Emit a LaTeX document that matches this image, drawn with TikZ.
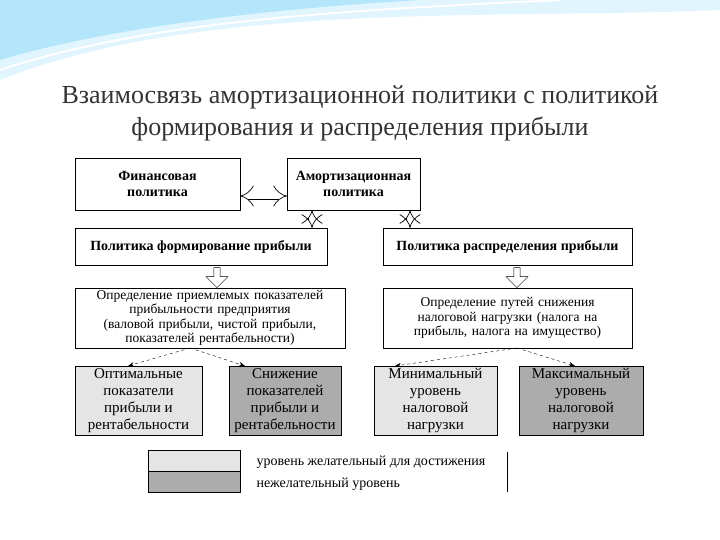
\documentclass[tikz,border=0pt]{standalone}
\usepackage{fontspec}
\setmainfont{Liberation Serif}
\usetikzlibrary{arrows.meta,shapes.arrows}
\begin{document}
\begin{tikzpicture}[x=1pt,y=-1pt,
 bx/.style={draw,thick,inner sep=0pt,align=center,font=\fontsize{13.5}{14.5}\selectfont},
 bb/.style={bx,font=\fontsize{14}{16}\selectfont\bfseries},
 bt/.style={bx,font=\fontsize{15}{17}\selectfont},
 lt/.style={fill=gray!20},
 dk/.style={fill=gray!65},
 dbl/.style={double distance=7pt,line width=0.7pt},
 dsh/.style={dashed,-{Stealth[length=6pt]}}]
\useasboundingbox (0,0) rectangle (720,540);
\fill[cyan!12] (0,0) -- (720,0) -- (720,10) .. controls (500,20) and (200,0) .. (0,80) -- cycle;
\fill[cyan!30] (0,0) -- (420,0) .. controls (250,10) and (100,30) .. (0,60) -- cycle;
\draw[white,line width=2pt] (0,70) .. controls (150,20) and (350,10) .. (560,0);
\node[font=\fontsize{26}{32}\selectfont,text=black!80,align=center] (title) at (360,113) {Взаимосвязь амортизационной политики с политикой\\формирования и распределения прибыли};
\node[bb,minimum width=165,minimum height=52] (fin) at (157.5,184) {Финансовая\\политика};
\node[bb,minimum width=133,minimum height=52] (am) at (353.5,184) {Амортизационная\\политика};
\node[bb,minimum width=252,minimum height=37] (pf) at (201,246.5) {Политика формирование прибыли};
\node[bb,minimum width=249,minimum height=37] (pr) at (507.5,246.5) {Политика распределения прибыли};
\node[bx,minimum width=270,minimum height=60,text width=250] (of) at (210,318) {Определение приемлемых показателей прибыльности предприятия (валовой прибыли, чистой прибыли, показателей рентабельности)};
\node[bx,minimum width=249,minimum height=60,text width=235] (or) at (507.5,318) {Определение путей снижения налоговой нагрузки (налога на прибыль, налога на имущество)\\[8pt]};
\node[bt,lt,minimum width=127,minimum height=69] (b1) at (138.5,400.5) {Оптимальные\\показатели\\прибыли и\\рентабельности};
\node[bt,dk,minimum width=112,minimum height=69] (b2) at (285,400.5) {Снижение\\показателей\\прибыли и\\рентабельности};
\node[bt,lt,minimum width=123,minimum height=69] (b3) at (435.5,400.5) {Минимальный\\уровень\\налоговой\\нагрузки};
\node[bt,dk,minimum width=124,minimum height=69] (b4) at (581,400.5) {Максимальный\\уровень\\налоговой\\нагрузки};
\coordinate (h1) at (240,196); \coordinate (h2) at (287,196);
\draw[dbl,{Implies}-{Implies}] (h1) -- (h2);
\coordinate (v1) at (312,210); \coordinate (v2) at (312,228);
\coordinate (v3) at (410,210); \coordinate (v4) at (410,228);
\draw[dbl,{Implies}-{Implies}] (v1) -- (v2);
\draw[dbl,{Implies}-{Implies}] (v3) -- (v4);
\node[draw,single arrow,shape border rotate=270,minimum height=20,minimum width=22,single arrow head extend=3pt,inner sep=1pt,fill=white] (a1) at (217,276) {};
\node[draw,single arrow,shape border rotate=270,minimum height=20,minimum width=22,single arrow head extend=3pt,inner sep=1pt,fill=white] (a2) at (517,276) {};
\coordinate (cf) at (190,348);
\coordinate (cr) at (517,348);
\coordinate (e1) at (128,366); \coordinate (e2) at (245,366);
\coordinate (e3) at (395,366); \coordinate (e4) at (575,366);
\draw[dsh] (cf) -- (e1);
\draw[dsh] (cf) -- (e2);
\draw[dsh] (cr) -- (e3);
\draw[dsh] (cr) -- (e4);
\node[draw,thick,lt,minimum width=92,minimum height=21,inner sep=0] (l1) at (194,460.5) {};
\node[draw,thick,dk,minimum width=92,minimum height=21,inner sep=0] (l2) at (194,481.5) {};
\node[anchor=west,font=\fontsize{14}{15}\selectfont] (t1) at (253,462) {уровень желательный для достижения};
\node[anchor=west,font=\fontsize{14}{15}\selectfont] (t2) at (253,484) {нежелательный уровень};
\draw (507,452) -- (507,492);
\end{tikzpicture}
\end{document}
